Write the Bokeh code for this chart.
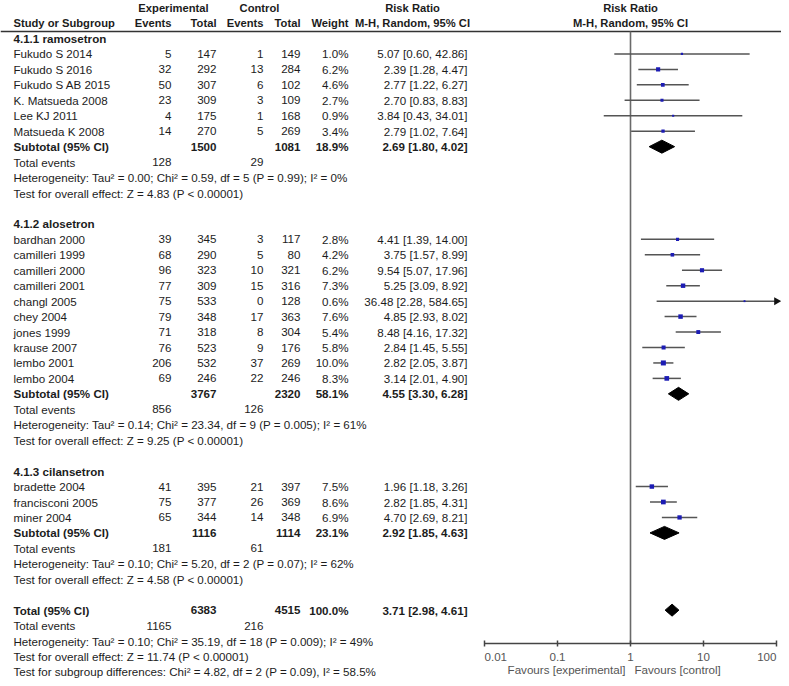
import math
from bokeh.plotting import figure
from bokeh.models import Range1d, LogScale, ColumnDataSource
from bokeh.embed import file_html
from bokeh.resources import INLINE
from bokeh.core.properties import value

# ---------------- data ----------------
GROUP_NAMES = ["4.1.1 ramosetron", "4.1.2 alosetron", "4.1.3 cilansetron"]

ramo_study = ["Fukudo S 2014", "Fukudo S 2016", "Fukudo S AB 2015", "K. Matsueda 2008", "Lee KJ 2011", "Matsueda K 2008"]
ramo_exp_events = [5, 32, 50, 23, 4, 14]
ramo_exp_total = [147, 292, 307, 309, 175, 270]
ramo_ctl_events = [1, 13, 6, 3, 1, 5]
ramo_ctl_total = [149, 284, 102, 109, 168, 269]
ramo_weight = [1.0, 6.2, 4.6, 2.7, 0.9, 3.4]
ramo_rr = [5.07, 2.39, 2.77, 2.70, 3.84, 2.79]
ramo_lo = [0.60, 1.28, 1.22, 0.83, 0.43, 1.02]
ramo_hi = [42.86, 4.47, 6.27, 8.83, 34.01, 7.64]

alo_study = ["bardhan 2000", "camilleri 1999", "camilleri 2000", "camilleri 2001", "changl 2005", "chey 2004", "jones 1999", "krause 2007", "lembo 2001", "lembo 2004"]
alo_exp_events = [39, 68, 96, 77, 75, 79, 71, 76, 206, 69]
alo_exp_total = [345, 290, 323, 309, 533, 348, 318, 523, 532, 246]
alo_ctl_events = [3, 5, 10, 15, 0, 17, 8, 9, 37, 22]
alo_ctl_total = [117, 80, 321, 316, 128, 363, 304, 176, 269, 246]
alo_weight = [2.8, 4.2, 6.2, 7.3, 0.6, 7.6, 5.4, 5.8, 10.0, 8.3]
alo_rr = [4.41, 3.75, 9.54, 5.25, 36.48, 4.85, 8.48, 2.84, 2.82, 3.14]
alo_lo = [1.39, 1.57, 5.07, 3.09, 2.28, 2.93, 4.16, 1.45, 2.05, 2.01]
alo_hi = [14.00, 8.99, 17.96, 8.92, 584.65, 8.02, 17.32, 5.55, 3.87, 4.90]

cil_study = ["bradette 2004", "francisconi 2005", "miner 2004"]
cil_exp_events = [41, 75, 65]
cil_exp_total = [395, 377, 344]
cil_ctl_events = [21, 26, 14]
cil_ctl_total = [397, 369, 348]
cil_weight = [7.5, 8.6, 6.9]
cil_rr = [1.96, 2.82, 4.70]
cil_lo = [1.18, 1.85, 2.69]
cil_hi = [3.26, 4.31, 8.21]

sub_exp_total = [1500, 3767, 1116]
sub_ctl_total = [1081, 2320, 1114]
sub_weight = [18.9, 58.1, 23.1]
sub_rr = [2.69, 4.55, 2.92]
sub_lo = [1.80, 3.30, 1.85]
sub_hi = [4.02, 6.28, 4.63]
sub_exp_events = [128, 856, 181]
sub_ctl_events = [29, 126, 61]
sub_het = [
    "Heterogeneity: Tau² = 0.00; Chi² = 0.59, df = 5 (P = 0.99); I² = 0%",
    "Heterogeneity: Tau² = 0.14; Chi² = 23.34, df = 9 (P = 0.005); I² = 61%",
    "Heterogeneity: Tau² = 0.10; Chi² = 5.20, df = 2 (P = 0.07); I² = 62%",
]
sub_test = [
    "Test for overall effect: Z = 4.83 (P < 0.00001)",
    "Test for overall effect: Z = 9.25 (P < 0.00001)",
    "Test for overall effect: Z = 4.58 (P < 0.00001)",
]

total_exp_total = 6383
total_ctl_total = 4515
total_weight = 100.0
total_rr = 3.71
total_lo = 2.98
total_hi = 4.61
total_exp_events = 1165
total_ctl_events = 216
total_het = "Heterogeneity: Tau² = 0.10; Chi² = 35.19, df = 18 (P = 0.009); I² = 49%"
total_test = "Test for overall effect: Z = 11.74 (P < 0.00001)"
subgroup_test = "Test for subgroup differences: Chi² = 4.82, df = 2 (P = 0.09), I² = 58.5%"

tick_values = [0.01, 0.1, 1, 10, 100]
tick_labels = ["0.01", "0.1", "1", "10", "100"]
favours_left = "Favours [experimental]"
favours_right = "Favours [control]"

studies = [
    (ramo_study, ramo_exp_events, ramo_exp_total, ramo_ctl_events, ramo_ctl_total, ramo_weight, ramo_rr, ramo_lo, ramo_hi),
    (alo_study, alo_exp_events, alo_exp_total, alo_ctl_events, alo_ctl_total, alo_weight, alo_rr, alo_lo, alo_hi),
    (cil_study, cil_exp_events, cil_exp_total, cil_ctl_events, cil_ctl_total, cil_weight, cil_rr, cil_lo, cil_hi),
]

# ---------------- layout (picture pixel coordinates) ----------------
W, H = 781, 678
Y0, DY = 38.0, 15.45
X_NAME, X_EEV, X_ETOT, X_CEV, X_CTOT, X_W, X_RR = 13, 171, 216, 263, 300, 348, 467
X_RRHEAD = 412
NULL_X, DEC = 630, 73.0
Y_HDR1, Y_HDR2, Y_RULE = 7, 22.5, 31
Y_AXIS, Y_TICKLAB, Y_FAV = 643, 656, 669
FONT = "Liberation Sans"
FSIZE = "11.6px"
HSIZE = "11.2px"
TXT = "#1c1c1c"

tx, ty, tt, ta, tw, ts = [], [], [], [], [], []


def put(x, y, s, align="left", bold=False, size=FSIZE):
    tx.append(x); ty.append(y); tt.append(s); ta.append(align)
    tw.append("bold" if bold else "normal"); ts.append(size)


def fmt_rr(r, l, h):
    return "%.2f [%.2f, %.2f]" % (r, l, h)


# headers
put(173, Y_HDR1, "Experimental", "center", True, HSIZE)
put(259, Y_HDR1, "Control", "center", True, HSIZE)
put(X_RRHEAD, Y_HDR1, "Risk Ratio", "center", True, HSIZE)
put(NULL_X, Y_HDR1, "Risk Ratio", "center", True, HSIZE)
put(X_NAME, Y_HDR2, "Study or Subgroup", "left", True, HSIZE)
put(X_EEV, Y_HDR2, "Events", "right", True, HSIZE)
put(X_ETOT, Y_HDR2, "Total", "right", True, HSIZE)
put(X_CEV, Y_HDR2, "Events", "right", True, HSIZE)
put(X_CTOT, Y_HDR2, "Total", "right", True, HSIZE)
put(X_W, Y_HDR2, "Weight", "right", True, HSIZE)
put(X_RRHEAD, Y_HDR2, "M-H, Random, 95% CI", "center", True, HSIZE)
put(NULL_X, Y_HDR2, "M-H, Random, 95% CI", "center", True, HSIZE)

ci = dict(x0=[], x1=[], y=[], rr=[], size=[])
arrow = dict(x=[], y=[])
dia = dict(xs=[], ys=[])

row = 0
for g, (name, st) in enumerate(zip(GROUP_NAMES, studies)):
    put(X_NAME, Y0 + row * DY, name, "left", True)
    row += 1
    s_names, eev, etot, cev, ctot, wt, rr, lo, hi = st
    for i in range(len(s_names)):
        y = Y0 + row * DY
        put(X_NAME, y, s_names[i])
        put(X_EEV, y, str(eev[i]), "right")
        put(X_ETOT, y, str(etot[i]), "right")
        put(X_CEV, y, str(cev[i]), "right")
        put(X_CTOT, y, str(ctot[i]), "right")
        put(X_W, y, "%.1f%%" % wt[i], "right")
        put(X_RR, y, fmt_rr(rr[i], lo[i], hi[i]), "right")
        ci["x0"].append(max(lo[i], tick_values[0]))
        ci["x1"].append(min(hi[i], tick_values[-1]))
        ci["y"].append(y)
        ci["rr"].append(rr[i])
        ci["size"].append(1.3 * math.sqrt(wt[i]) + 0.9)
        if hi[i] > tick_values[-1]:
            arrow["x"].append(tick_values[-1])
            arrow["y"].append(y)
        row += 1
    y = Y0 + row * DY
    put(X_NAME, y, "Subtotal (95% CI)", "left", True)
    put(X_ETOT, y, str(sub_exp_total[g]), "right", True)
    put(X_CTOT, y, str(sub_ctl_total[g]), "right", True)
    put(X_W, y, "%.1f%%" % sub_weight[g], "right", True)
    put(X_RR, y, fmt_rr(sub_rr[g], sub_lo[g], sub_hi[g]), "right", True)
    dia["xs"].append([sub_lo[g], sub_rr[g], sub_hi[g], sub_rr[g]])
    dia["ys"].append([y, y - 6.5, y, y + 6.5])
    row += 1
    y = Y0 + row * DY
    put(X_NAME, y, "Total events")
    put(X_EEV, y, str(sub_exp_events[g]), "right")
    put(X_CEV, y, str(sub_ctl_events[g]), "right")
    row += 1
    put(X_NAME, Y0 + row * DY, sub_het[g])
    row += 1
    put(X_NAME, Y0 + row * DY, sub_test[g])
    row += 2

y = Y0 + row * DY
put(X_NAME, y, "Total (95% CI)", "left", True)
put(X_ETOT, y, str(total_exp_total), "right", True)
put(X_CTOT, y, str(total_ctl_total), "right", True)
put(X_W, y, "%.1f%%" % total_weight, "right", True)
put(X_RR, y, fmt_rr(total_rr, total_lo, total_hi), "right", True)
dia["xs"].append([total_lo, total_rr, total_hi, total_rr])
dia["ys"].append([y, y - 6, y, y + 6])
row += 1
y = Y0 + row * DY
put(X_NAME, y, "Total events")
put(X_EEV, y, str(total_exp_events), "right")
put(X_CEV, y, str(total_ctl_events), "right")
row += 1
put(X_NAME, Y0 + row * DY, total_het)
row += 1
put(X_NAME, Y0 + row * DY, total_test)
row += 1
put(X_NAME, Y0 + row * DY, subgroup_test)

# ---------------- figure ----------------
p = figure(width=W, height=H, x_range=Range1d(0, W), y_range=Range1d(H, 0),
           output_backend="svg", toolbar_location=None, min_border=0,
           x_axis_location=None, y_axis_location=None)
p.grid.visible = False
p.outline_line_color = None
p.background_fill_color = "white"
p.border_fill_color = "white"

p.extra_x_ranges = {"rr": Range1d(10 ** ((0 - NULL_X) / DEC), 10 ** ((W - NULL_X) / DEC))}
p.extra_x_scales = {"rr": LogScale()}

# header rule
p.segment(x0=[0], x1=[W], y0=[Y_RULE], y1=[Y_RULE], line_color="#333333", line_width=1.3)

# null line
p.segment(x0=[1], x1=[1], y0=[Y_RULE], y1=[Y_AXIS], x_range_name="rr", line_color="#6a6a6a", line_width=1.6)

cis = ColumnDataSource(ci)
p.segment(x0="x0", x1="x1", y0="y", y1="y", source=cis, x_range_name="rr", line_color="#555555", line_width=1.5)
p.scatter(x="rr", y="y", size="size", marker="square", source=cis, x_range_name="rr",
          fill_color="#1c1cb4", line_color=None)
p.scatter(x="x", y="y", source=ColumnDataSource(arrow), marker="triangle", angle=-math.pi / 2,
          size=8, x_range_name="rr", fill_color="#111111", line_color=None)
p.patches(xs="xs", ys="ys", source=ColumnDataSource(dia), x_range_name="rr", fill_color="black", line_color="black")

# axis drawn with the log scale
p.segment(x0=[tick_values[0]], x1=[tick_values[-1]], y0=[Y_AXIS], y1=[Y_AXIS], x_range_name="rr",
          line_color="#444444", line_width=1.5)
p.segment(x0=tick_values, x1=tick_values, y0=[Y_AXIS - 3] * len(tick_values), y1=[Y_AXIS + 3] * len(tick_values),
          x_range_name="rr", line_color="#444444", line_width=1.5)
tick_align = ["left"] + ["center"] * (len(tick_values) - 2) + ["right"]
p.text(x=tick_values, y=[Y_TICKLAB] * len(tick_values), text=tick_labels, text_align=tick_align,
       x_range_name="rr", text_baseline="middle", text_font=value(FONT), text_font_size=FSIZE,
       text_color="#555555")
p.text(x=[1, 1], y=[Y_FAV, Y_FAV], text=[favours_left, favours_right], text_align=["right", "left"],
       x_offset=[-5, 4], x_range_name="rr", text_baseline="middle", text_font=value(FONT),
       text_font_size=FSIZE, text_color="#555555")

# table text
p.text(x="x", y="y", text="t", text_align="a", text_font_style="w", text_font_size="s",
       source=ColumnDataSource(dict(x=tx, y=ty, t=tt, a=ta, w=tw, s=ts)),
       text_baseline="middle", text_font=value(FONT), text_color=TXT)

open("out.html", "w").write(file_html(p, INLINE))
